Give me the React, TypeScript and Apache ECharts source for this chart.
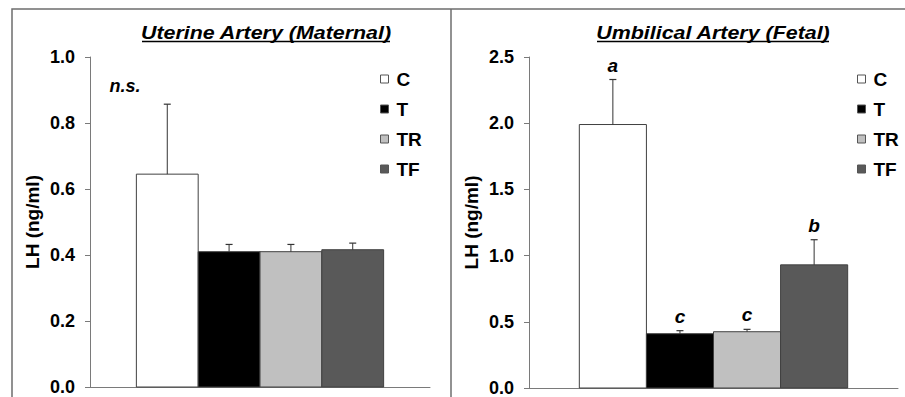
import React, { useEffect, useRef } from "react";
import * as echarts from "echarts";

const groups = ["C", "T", "TR", "TF"];
const groupColors = ["#ffffff", "#000000", "#c0c0c0", "#595959"];

const uterineTitle = "Uterine Artery (Maternal)";
const uterineMeans = [0.645, 0.41, 0.41, 0.416];
const uterineSem = [0.212, 0.022, 0.022, 0.02];
const uterineLetters = ["", "", "", ""];
const uterineNote = "n.s.";
const uterineTicks = { min: 0, max: 1.0, interval: 0.2 };

const umbilicalTitle = "Umbilical Artery (Fetal)";
const umbilicalMeans = [1.99, 0.41, 0.425, 0.93];
const umbilicalSem = [0.34, 0.023, 0.018, 0.19];
const umbilicalLetters = ["a", "c", "c", "b"];
const umbilicalTicks = { min: 0, max: 2.5, interval: 0.5 };

const yAxisTitle = "LH (ng/ml)";

const FONT = "Liberation Sans, Arial, Helvetica, sans-serif";
const AXIS_COLOR = "#7a7a7a";
const BAR_BORDER = "#404040";

function pos(i: number) {
  return i - 1.5;
}

function buildPanel(
  gi: number,
  means: number[],
  sem: number[],
  letters: string[]
) {
  const series: any[] = groups.map((g, i) => ({
    type: "custom",
    name: g,
    xAxisIndex: gi,
    yAxisIndex: gi,
    itemStyle: { color: groupColors[i], borderColor: BAR_BORDER, borderWidth: 1 },
    data: [[pos(i), means[i]]],
    renderItem: (params: any, api: any) => {
      const x = api.value(0);
      const y = api.value(1);
      const p0 = api.coord([x - 0.5, y]);
      const p1 = api.coord([x + 0.5, 0]);
      return {
        type: "rect",
        shape: { x: p0[0], y: p0[1], width: p1[0] - p0[0], height: p1[1] - p0[1] },
        style: { fill: groupColors[i], stroke: BAR_BORDER, lineWidth: 1 },
      };
    },
    z: 2,
  }));
  series.push({
    type: "custom",
    name: "err" + gi,
    xAxisIndex: gi,
    yAxisIndex: gi,
    data: means.map((m, i) => [pos(i), m, m + sem[i]]),
    renderItem: (params: any, api: any) => {
      const x = api.value(0);
      const base = api.coord([x, api.value(1)]);
      const top = api.coord([x, api.value(2)]);
      const children: any[] = [
        {
          type: "line",
          shape: { x1: base[0], y1: base[1], x2: top[0], y2: top[1] },
          style: { stroke: "#333", lineWidth: 1 },
        },
        {
          type: "line",
          shape: { x1: top[0] - 3.5, y1: top[1], x2: top[0] + 3.5, y2: top[1] },
          style: { stroke: "#333", lineWidth: 1.2 },
        },
      ];
      const letter = letters[params.dataIndex];
      if (letter) {
        children.push({
          type: "text",
          x: top[0],
          y: top[1] - 5,
          style: {
            text: letter,
            fill: "#000",
            fontFamily: FONT,
            fontSize: 19,
            fontWeight: "bold",
            fontStyle: "italic",
            align: "center",
            verticalAlign: "bottom",
          },
        });
      }
      return { type: "group", children };
    },
    z: 3,
  });
  return series;
}

function yAxis(gi: number, t: { min: number; max: number; interval: number }, gap: number) {
  return {
    type: "value",
    gridIndex: gi,
    min: t.min,
    max: t.max,
    interval: t.interval,
    name: yAxisTitle,
    nameLocation: "middle",
    nameGap: gap,
    nameTextStyle: { fontFamily: FONT, fontWeight: "bold", fontSize: 19, color: "#000" },
    axisLine: { show: true, onZero: false, lineStyle: { color: AXIS_COLOR, width: 1 } },
    axisTick: { show: true, inside: false, length: 5, lineStyle: { color: AXIS_COLOR, width: 1 } },
    axisLabel: {
      fontFamily: FONT,
      fontWeight: "bold",
      fontSize: 18,
      color: "#000",
      margin: 15,
      formatter: (v: number) => v.toFixed(1),
    },
    splitLine: { show: false },
  };
}

function xAxis(gi: number) {
  return {
    type: "value",
    gridIndex: gi,
    min: -2.75,
    max: 2.75,
    axisLine: { show: true, onZero: true, lineStyle: { color: AXIS_COLOR, width: 1 } },
    axisTick: { show: false },
    axisLabel: { show: false },
    splitLine: { show: false },
  };
}

function legend(left: number) {
  return {
    orient: "vertical",
    left,
    top: 69,
    padding: 0,
    itemGap: 10,
    itemWidth: 8,
    itemHeight: 8,
    icon: "rect",
    selectedMode: false,
    textStyle: {
      fontFamily: FONT,
      fontWeight: "bold",
      fontSize: 19,
      color: "#000",
      lineHeight: 20,
      padding: [0, 0, 0, 3],
    },
    data: groups.map((g, i) => ({
      name: g,
      itemStyle: { color: groupColors[i], borderColor: "#555", borderWidth: 1 },
    })),
  };
}

export default function App() {
  const ref = useRef<HTMLDivElement>(null);
  useEffect(() => {
    if (!ref.current) return;
    const chart = echarts.init(ref.current, null, { renderer: "svg" });
    const titleStyle = {
      fontFamily: FONT,
      fontSize: 18,
      fontWeight: "bold",
      fontStyle: "italic",
      fill: "#000",
      align: "center",
      verticalAlign: "bottom",
    };
    chart.setOption({
      animation: false,
      backgroundColor: "#ffffff",
      grid: [
        { left: 90, top: 57, width: 340, height: 330 },
        { left: 529, top: 57, width: 369, height: 331 },
      ],
      xAxis: [xAxis(0), xAxis(1)],
      yAxis: [yAxis(0, uterineTicks, 48), yAxis(1, umbilicalTicks, 48)],
      legend: [legend(380), legend(857)],
      series: [
        ...buildPanel(0, uterineMeans, uterineSem, uterineLetters),
        ...buildPanel(1, umbilicalMeans, umbilicalSem, umbilicalLetters),
      ],
      graphic: [
        {
          type: "polyline",
          shape: { points: [[12, 397], [12, 9], [905, 9]] },
          style: { stroke: "#6e6e6e", lineWidth: 1.5, fill: null },
        },
        {
          type: "line",
          shape: { x1: 451, y1: 9, x2: 451, y2: 397 },
          style: { stroke: "#6e6e6e", lineWidth: 1.5 },
        },
        { type: "text", x: 266, y: 42, scaleX: 1.19, style: { ...titleStyle, text: uterineTitle } },
        {
          type: "line",
          shape: { x1: 142, y1: 41.5, x2: 390, y2: 41.5 },
          style: { stroke: "#000", lineWidth: 1.3 },
        },
        { type: "text", x: 713, y: 42, scaleX: 1.19, style: { ...titleStyle, text: umbilicalTitle } },
        {
          type: "line",
          shape: { x1: 597, y1: 41.5, x2: 829, y2: 41.5 },
          style: { stroke: "#000", lineWidth: 1.3 },
        },
        {
          type: "text",
          x: 125,
          y: 86,
          style: {
            text: uterineNote,
            fontFamily: FONT,
            fontSize: 18,
            fontWeight: "bold",
            fontStyle: "italic",
            fill: "#000",
            align: "center",
            verticalAlign: "middle",
          },
        },
      ],
    });
    return () => chart.dispose();
  }, []);
  return (
    <div
      ref={ref}
      style={{ position: "fixed", left: 0, top: 0, width: 905, height: 397, background: "#fff" }}
    />
  );
}
